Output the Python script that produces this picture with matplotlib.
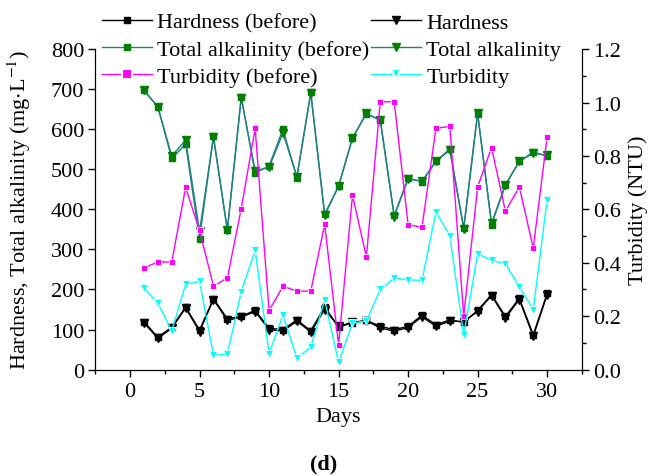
import matplotlib
matplotlib.use("Agg")
import matplotlib.pyplot as plt
from matplotlib.ticker import MultipleLocator

plt.rcParams['font.family'] = ['Liberation Serif', 'DejaVu Serif']
plt.rcParams['mathtext.fontset'] = 'stix'
plt.rcParams['font.size'] = 16

# --- data ---
days = list(range(1, 31))
hardness_before = [120, 81, 106, 156, 99, 177, 127, 133, 148, 103, 100, 124, 97, 157, 106,
                   117, 123, 108, 100, 108, 136, 112, 124, 118, 148, 187, 133, 178, 87, 190]
hardness_after = [117, 78, 103, 154, 95, 175, 123, 131, 145, 100, 96, 121, 94, 150, 108,
                  118, 122, 104, 96, 105, 132, 108, 121, 120, 145, 185, 129, 175, 83, 187]
alk_before = [697, 656, 527, 563, 327, 582, 349, 681, 491, 508, 600, 479, 692, 388, 458,
              578, 638, 623, 385, 478, 469, 520, 551, 353, 639, 362, 460, 520, 543, 533]
alk_after = [697, 656, 533, 573, 345, 580, 348, 678, 496, 505, 590, 482, 690, 385, 458,
             578, 640, 622, 382, 476, 470, 520, 548, 352, 640, 365, 462, 520, 540, 535]
turb_before = [0.381, 0.403, 0.403, 0.682, 0.521, 0.313, 0.343, 0.603, 0.903, 0.221,
               0.312, 0.294, 0.294, 0.544, 0.093, 0.652, 0.422, 1.003, 1.003, 0.543,
               0.533, 0.903, 0.911, 0.200, 0.684, 0.831, 0.593, 0.684, 0.455, 0.871]
turb_after = [0.305, 0.249, 0.145, 0.319, 0.330, 0.055, 0.057, 0.292, 0.447, 0.060,
              0.205, 0.043, 0.084, 0.261, 0.027, 0.175, 0.182, 0.300, 0.343, 0.336,
              0.334, 0.590, 0.502, 0.130, 0.434, 0.409, 0.396, 0.311, 0.224, 0.636]

teal = '#1f8080'
green = '#007f00'

fig = plt.figure(figsize=(6.48, 4.77), dpi=100)
ax = fig.add_axes([0.147, 0.223, 0.751, 0.672])
ax2 = ax.twinx()

h1, = ax.plot(days, hardness_before, color='black', lw=1, marker='s', ms=5,
              label='Hardness (before)')
h2, = ax.plot(days, hardness_after, color='black', lw=1, marker='v', ms=6,
              label='Hardness')
a1, = ax.plot(days, alk_before, color=teal, lw=1, marker='s', ms=5, mfc=green, mec=green,
              label='Total alkalinity (before)')
a2, = ax.plot(days, alk_after, color=teal, lw=1, marker='v', ms=6, mfc=green, mec=green,
              label='Total alkalinity')
t1, = ax2.plot(days, turb_before, color='#ff00ff', lw=1, marker='s', ms=5, mec='white',
               mew=0.6, label='Turbidity (before)')
t2, = ax2.plot(days, turb_after, color='#00ffff', lw=1, marker='v', ms=6, mec='white',
               mew=0.6, label='Turbidity')

ax.set_xlim(-2.5, 32.5)
ax.set_ylim(0, 800)
ax2.set_ylim(0, 1.2)
ax.xaxis.set_major_locator(MultipleLocator(5))
ax.xaxis.set_minor_locator(MultipleLocator(2.5))
ax.yaxis.set_major_locator(MultipleLocator(100))
ax2.yaxis.set_major_locator(MultipleLocator(0.2))
ax2.yaxis.set_minor_locator(MultipleLocator(0.1))
ax2.yaxis.set_major_formatter(plt.FormatStrFormatter('%.1f'))

for a in (ax, ax2):
    a.spines['top'].set_visible(False)
    a.tick_params(which='major', direction='out', length=5, width=1, pad=3)
    a.tick_params(which='minor', direction='out', length=3, width=1)
ax.tick_params(axis='x', pad=4)

ax.set_xlabel('Days', labelpad=4)
ax.set_ylabel('Hardness, Total alkalinity (mg$\\cdot$L$^{-1}$)', labelpad=13)
ax2.set_ylabel('Turbidity (NTU)', labelpad=5)

leg = fig.legend(handles=[h1, a1, t1, h2, a2, t2], ncol=2, frameon=False,
                 loc='upper left', bbox_to_anchor=(0.150, 0.982), borderaxespad=0,
                 handlelength=2.25, handletextpad=0.23, columnspacing=0.1,
                 labelspacing=0.3, borderpad=0.2)
# turbidity handles show a gap round the marker
for hd in leg.legend_handles[2::3]:
    hd.set_markersize(7)
    hd.set_markeredgewidth(1.5)

fig.text(0.5, 0.027, '(d)', ha='center', va='center', fontweight='bold')

fig.savefig('out.png', dpi=100)
